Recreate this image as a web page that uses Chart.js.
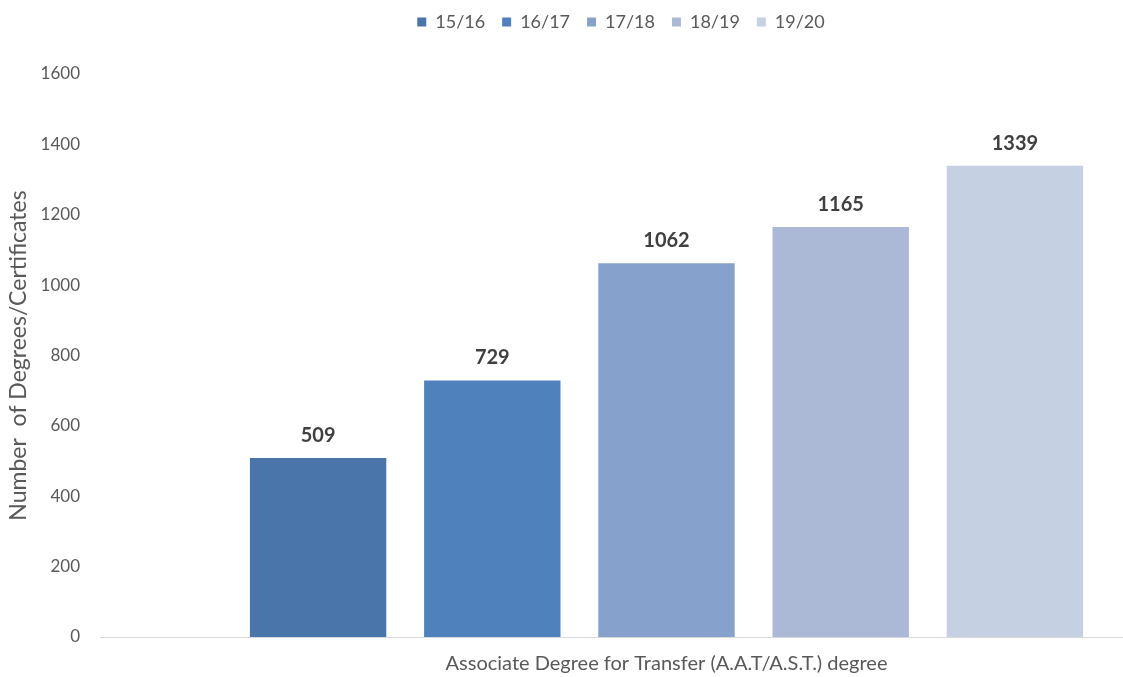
<!DOCTYPE html>
<html>
<head>
<meta charset="utf-8">
<title>Associate Degrees for Transfer</title>
<script src="https://cdn.jsdelivr.net/npm/chart.js@4/dist/chart.umd.min.js"></script>
<style>
    body { margin: 0; background: #fff; }
    canvas { display: block; }
</style>
</head>
<body>
<canvas id="degreeChart" width="1123" height="677"></canvas>
<script>
// degrees awarded, one series per academic year
const categories = ['Associate Degree for Transfer (A.A.T/A.S.T.) degree'];
const years = ['15/16', '16/17', '17/18', '18/19', '19/20'];
const counts = [509, 729, 1062, 1165, 1339];
const yTicks = [0, 200, 400, 600, 800, 1000, 1200, 1400, 1600];
const barColors = ['#4975ab', '#4f81bd', '#86a1cb', '#abb9d7', '#c5d0e3'];

const textGrey = '#595959';
const fontFamily = 'Lato, "Open Sans", sans-serif';

// value labels above each bar
const valueLabels = {
    id: 'valueLabels',
    afterDatasetsDraw(chart) {
        const ctx = chart.ctx;
        ctx.save();
        ctx.font = 'bold 20px ' + fontFamily;
        ctx.fillStyle = '#404040';
        ctx.textAlign = 'center';
        ctx.textBaseline = 'alphabetic';
        chart.data.datasets.forEach((ds, i) => {
            const meta = chart.getDatasetMeta(i);
            meta.data.forEach((bar, j) => {
                ctx.fillText(String(ds.data[j]), bar.x, bar.y - 16);
            });
        });
        ctx.restore();
    }
};

// baseline runs left past the plot area, under the empty space
const baselineExtension = {
    id: 'baselineExtension',
    afterDraw(chart) {
        const { ctx, chartArea } = chart;
        const y = chart.scales.y.getPixelForValue(0);
        ctx.save();
        ctx.strokeStyle = '#d9d9d9';
        ctx.lineWidth = 1;
        ctx.beginPath();
        ctx.moveTo(100, Math.round(y) + 0.5);
        ctx.lineTo(chartArea.left, Math.round(y) + 0.5);
        ctx.stroke();
        ctx.restore();
    }
};

// more room under the legend, and the legend row sits a bit right of centre
const legendSpacing = {
    id: 'legendSpacing',
    beforeInit(chart) {
        const origFit = chart.legend.fit;
        chart.legend.fit = function () {
            origFit.call(this);
            this.height += 33;
        };
    },
    afterLayout(chart) {
        chart.legend.left += 57;
        chart.legend.right += 57;
    }
};

const datasets = years.map((yr, i) => ({
    label: yr,
    data: [counts[i]],
    backgroundColor: barColors[i],
    borderWidth: 0
}));

new Chart(document.getElementById('degreeChart'), {
    type: 'bar',
    data: { labels: categories, datasets: datasets },
    options: {
        responsive: false,
        animation: false,
        devicePixelRatio: 1,
        categoryPercentage: 0.954,
        barPercentage: 0.783,
        layout: { padding: { left: 5, right: 0, top: -4, bottom: 0 } },
        plugins: {
            legend: {
                position: 'top',
                labels: {
                    boxWidth: 9,
                    boxHeight: 9,
                    padding: 17,
                    color: textGrey,
                    font: { family: fontFamily, size: 18 }
                }
            },
            tooltip: { enabled: false }
        },
        scales: {
            x: {
                afterFit(scale) {
                    scale.height = 40;
                },
                grid: { display: false },
                border: { display: true, color: '#d9d9d9', width: 1 },
                ticks: {
                    color: textGrey,
                    padding: 7,
                    font: { family: fontFamily, size: 20 }
                }
            },
            y: {
                min: 0,
                max: 1600,
                afterBuildTicks(scale) {
                    scale.ticks = yTicks.map(v => ({ value: v }));
                },
                afterFit(scale) {
                    scale.width = 205;
                },
                // hidden tick marks keep the labels well left of the bars
                grid: { display: false, drawTicks: true, tickLength: 126 },
                border: { display: false },
                ticks: {
                    color: textGrey,
                    padding: 4,
                    font: { family: fontFamily, size: 17 },
                    callback: v => String(v)
                },
                title: {
                    display: true,
                    text: 'Number  of Degrees/Certificates',
                    color: textGrey,
                    padding: { top: 0, bottom: 0 },
                    font: { family: fontFamily, size: 23 }
                }
            }
        }
    },
    plugins: [valueLabels, baselineExtension, legendSpacing]
});
</script>
</body>
</html>
